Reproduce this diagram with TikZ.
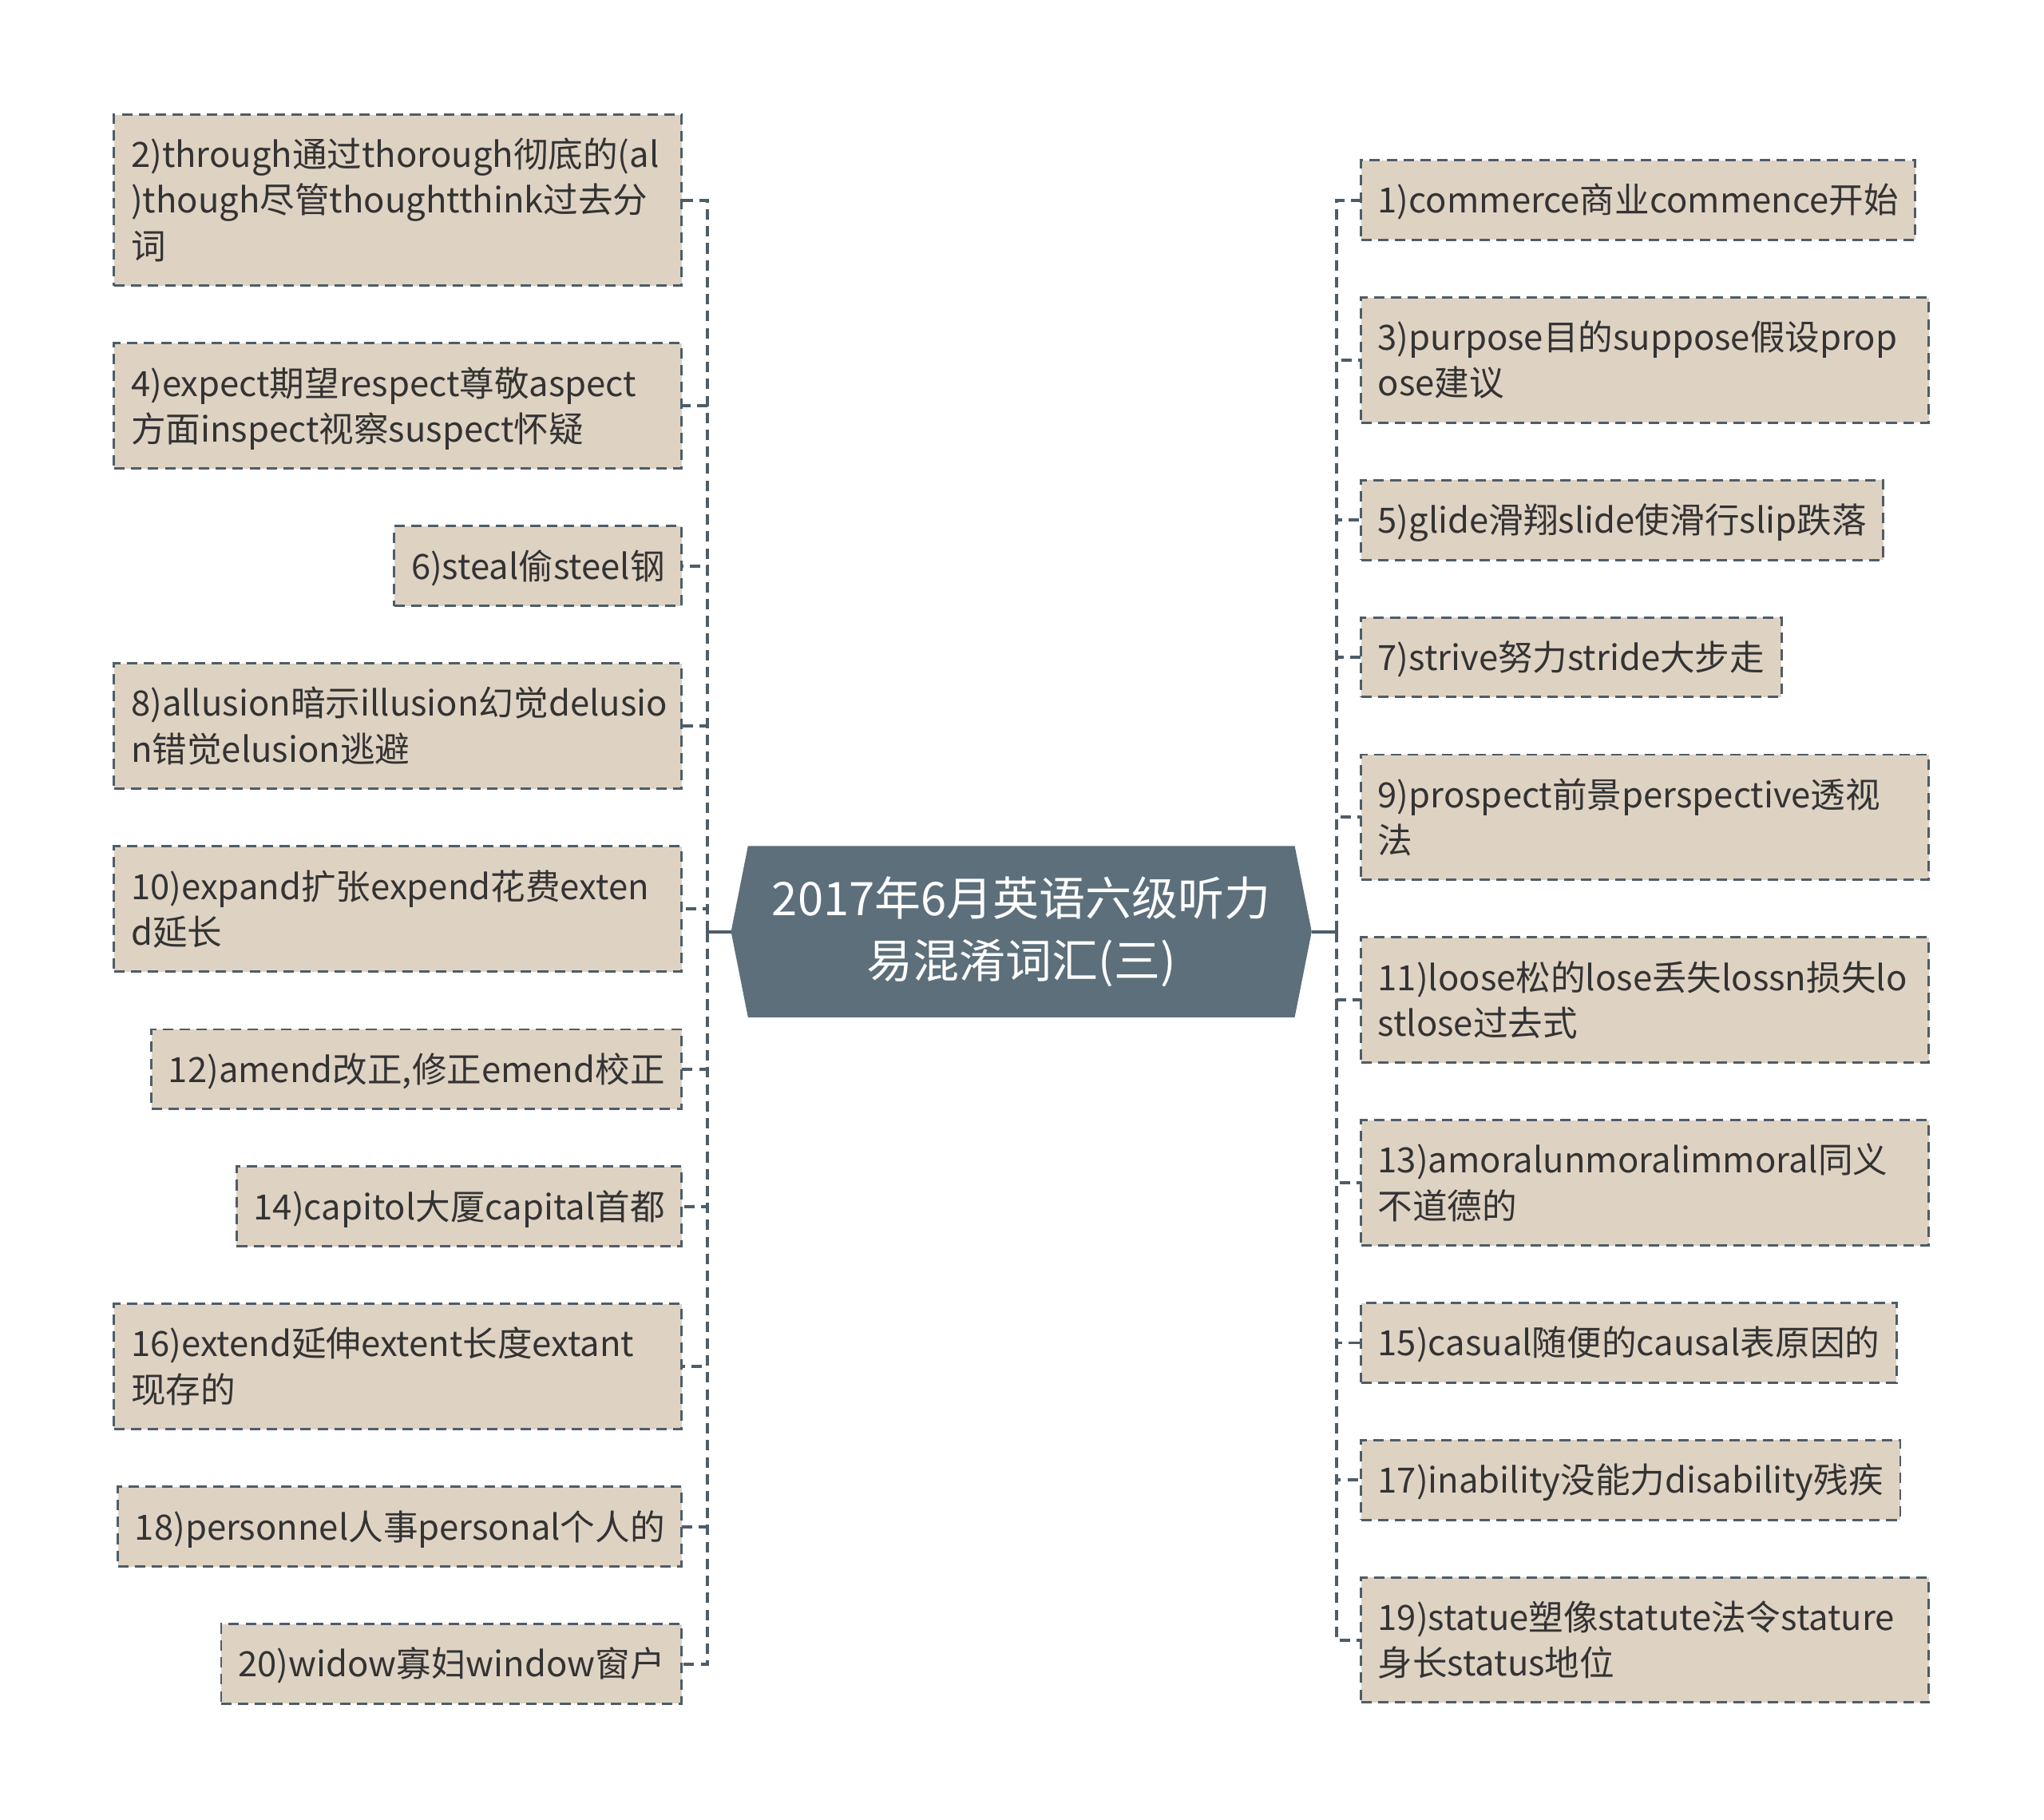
\documentclass[tikz,border=0pt]{standalone}
\usepackage{fontspec}
\setmainfont{Noto Sans CJK SC}
\usetikzlibrary{positioning}
\usetikzlibrary{backgrounds}
\definecolor{rootfill}{HTML}{5C6F7B}
\definecolor{leaffill}{HTML}{DED3C3}
\definecolor{leafline}{HTML}{4E5D68}
\definecolor{leaftext}{HTML}{333333}
\newcommand\leafstrut{\rule[-7.5pt]{0pt}{35pt}}
\hyphenpenalty=10000
\exhyphenpenalty=10000

\begin{document}
\begin{tikzpicture}[x=1pt,y=-1pt,
		leaf node/.style={rectangle,draw=leafline,fill=leaffill,dash pattern=on 8pt off 5pt,line width=1.8pt,
			outer sep=0pt,inner xsep=13pt,inner ysep=13pt,align=left,text=leaftext,
			font=\fontsize{26.7}{35}\selectfont,
			execute at begin node=\leafstrut,execute at end node=\leafstrut},
		wide node/.style={leaf node,text width=409.5pt},
		root node/.style={minimum width=445pt,minimum height=131pt,align=center,text=white,
			font=\fontsize{35.5}{48}\selectfont},
		link/.style={draw=leafline,line width=2.4pt,dash pattern=on 8pt off 5pt},
		stem/.style={draw=leafline,line width=2.4pt}]
		
		\useasboundingbox (0,0) rectangle (1568,1395.3);
		
		\node[root node] (root) at (783.5,714.5) {2017年6月英语六级听力\\易混淆词汇(三)};
		\begin{scope}[on background layer]
		\fill[rootfill] ([xshift=13pt]root.north west) -- ([xshift=-13pt]root.north east) -- (root.east)
		-- ([xshift=-13pt]root.south east) -- ([xshift=13pt]root.south west) -- (root.west) -- cycle;
		\end{scope}
		\coordinate[left=18pt of root.west] (lt);
		\coordinate[right=19pt of root.east] (rt);
		
		\node[wide node,anchor=north east] (b2) at (523,88) {2)through通过thorough彻底的(al\\)though尽管thoughtthink过去分\\词};
		\node[wide node,below left=44.3pt and 0pt of b2.south east] (b4) {4)expect期望respect尊敬aspect\\方面inspect视察suspect怀疑};
		\node[leaf node,below left=44.3pt and 0pt of b4.south east] (b6) {6)steal偷steel钢};
		\node[wide node,below left=44.3pt and 0pt of b6.south east] (b8) {8)allusion暗示illusion幻觉delusio\\n错觉elusion逃避};
		\node[wide node,below left=44.3pt and 0pt of b8.south east] (b10) {10)expand扩张expend花费exten\\d延长};
		\node[leaf node,below left=44.3pt and 0pt of b10.south east] (b12) {12)amend改正,修正emend校正};
		\node[leaf node,below left=44.3pt and 0pt of b12.south east] (b14) {14)capitol大厦capital首都};
		\node[wide node,below left=44.3pt and 0pt of b14.south east] (b16) {16)extend延伸extent长度extant\\现存的};
		\node[leaf node,below left=44.3pt and 0pt of b16.south east] (b18) {18)personnel人事personal个人的};
		\node[leaf node,below left=44.3pt and 0pt of b18.south east] (b20) {20)widow寡妇window窗户};
		
		\node[leaf node,anchor=north west] (r1) at (1044,123) {1)commerce商业commence开始};
		\node[wide node,below right=44.2pt and 0pt of r1.south west] (r3) {3)purpose目的suppose假设prop\\ose建议};
		\node[leaf node,below right=44.2pt and 0pt of r3.south west] (r5) {5)glide滑翔slide使滑行slip跌落};
		\node[leaf node,below right=44.2pt and 0pt of r5.south west] (r7) {7)strive努力stride大步走};
		\node[wide node,below right=44.2pt and 0pt of r7.south west] (r9) {9)prospect前景perspective透视\\法};
		\node[wide node,below right=44.2pt and 0pt of r9.south west] (r11) {11)loose松的lose丢失lossn损失lo\\stlose过去式};
		\node[wide node,below right=44.2pt and 0pt of r11.south west] (r13) {13)amoralunmoralimmoral同义\\不道德的};
		\node[leaf node,below right=44.2pt and 0pt of r13.south west] (r15) {15)casual随便的causal表原因的};
		\node[leaf node,below right=44.2pt and 0pt of r15.south west] (r17) {17)inability没能力disability残疾};
		\node[wide node,below right=44.2pt and 0pt of r17.south west] (r19) {19)statue塑像statute法令stature\\身长status地位};
		
		\draw[stem] (root.west) -- (lt);
		\draw[stem] (root.east) -- (rt);
		\foreach \n in {b2,b4,b6,b8,b10,b12,b14,b16,b18,b20}
		\draw[link] (lt) |- (\n.east);
		\foreach \n in {r1,r3,r5,r7,r9,r11,r13,r15,r17,r19}
		\draw[link] (rt) |- (\n.west);
\end{tikzpicture}
\end{document}
